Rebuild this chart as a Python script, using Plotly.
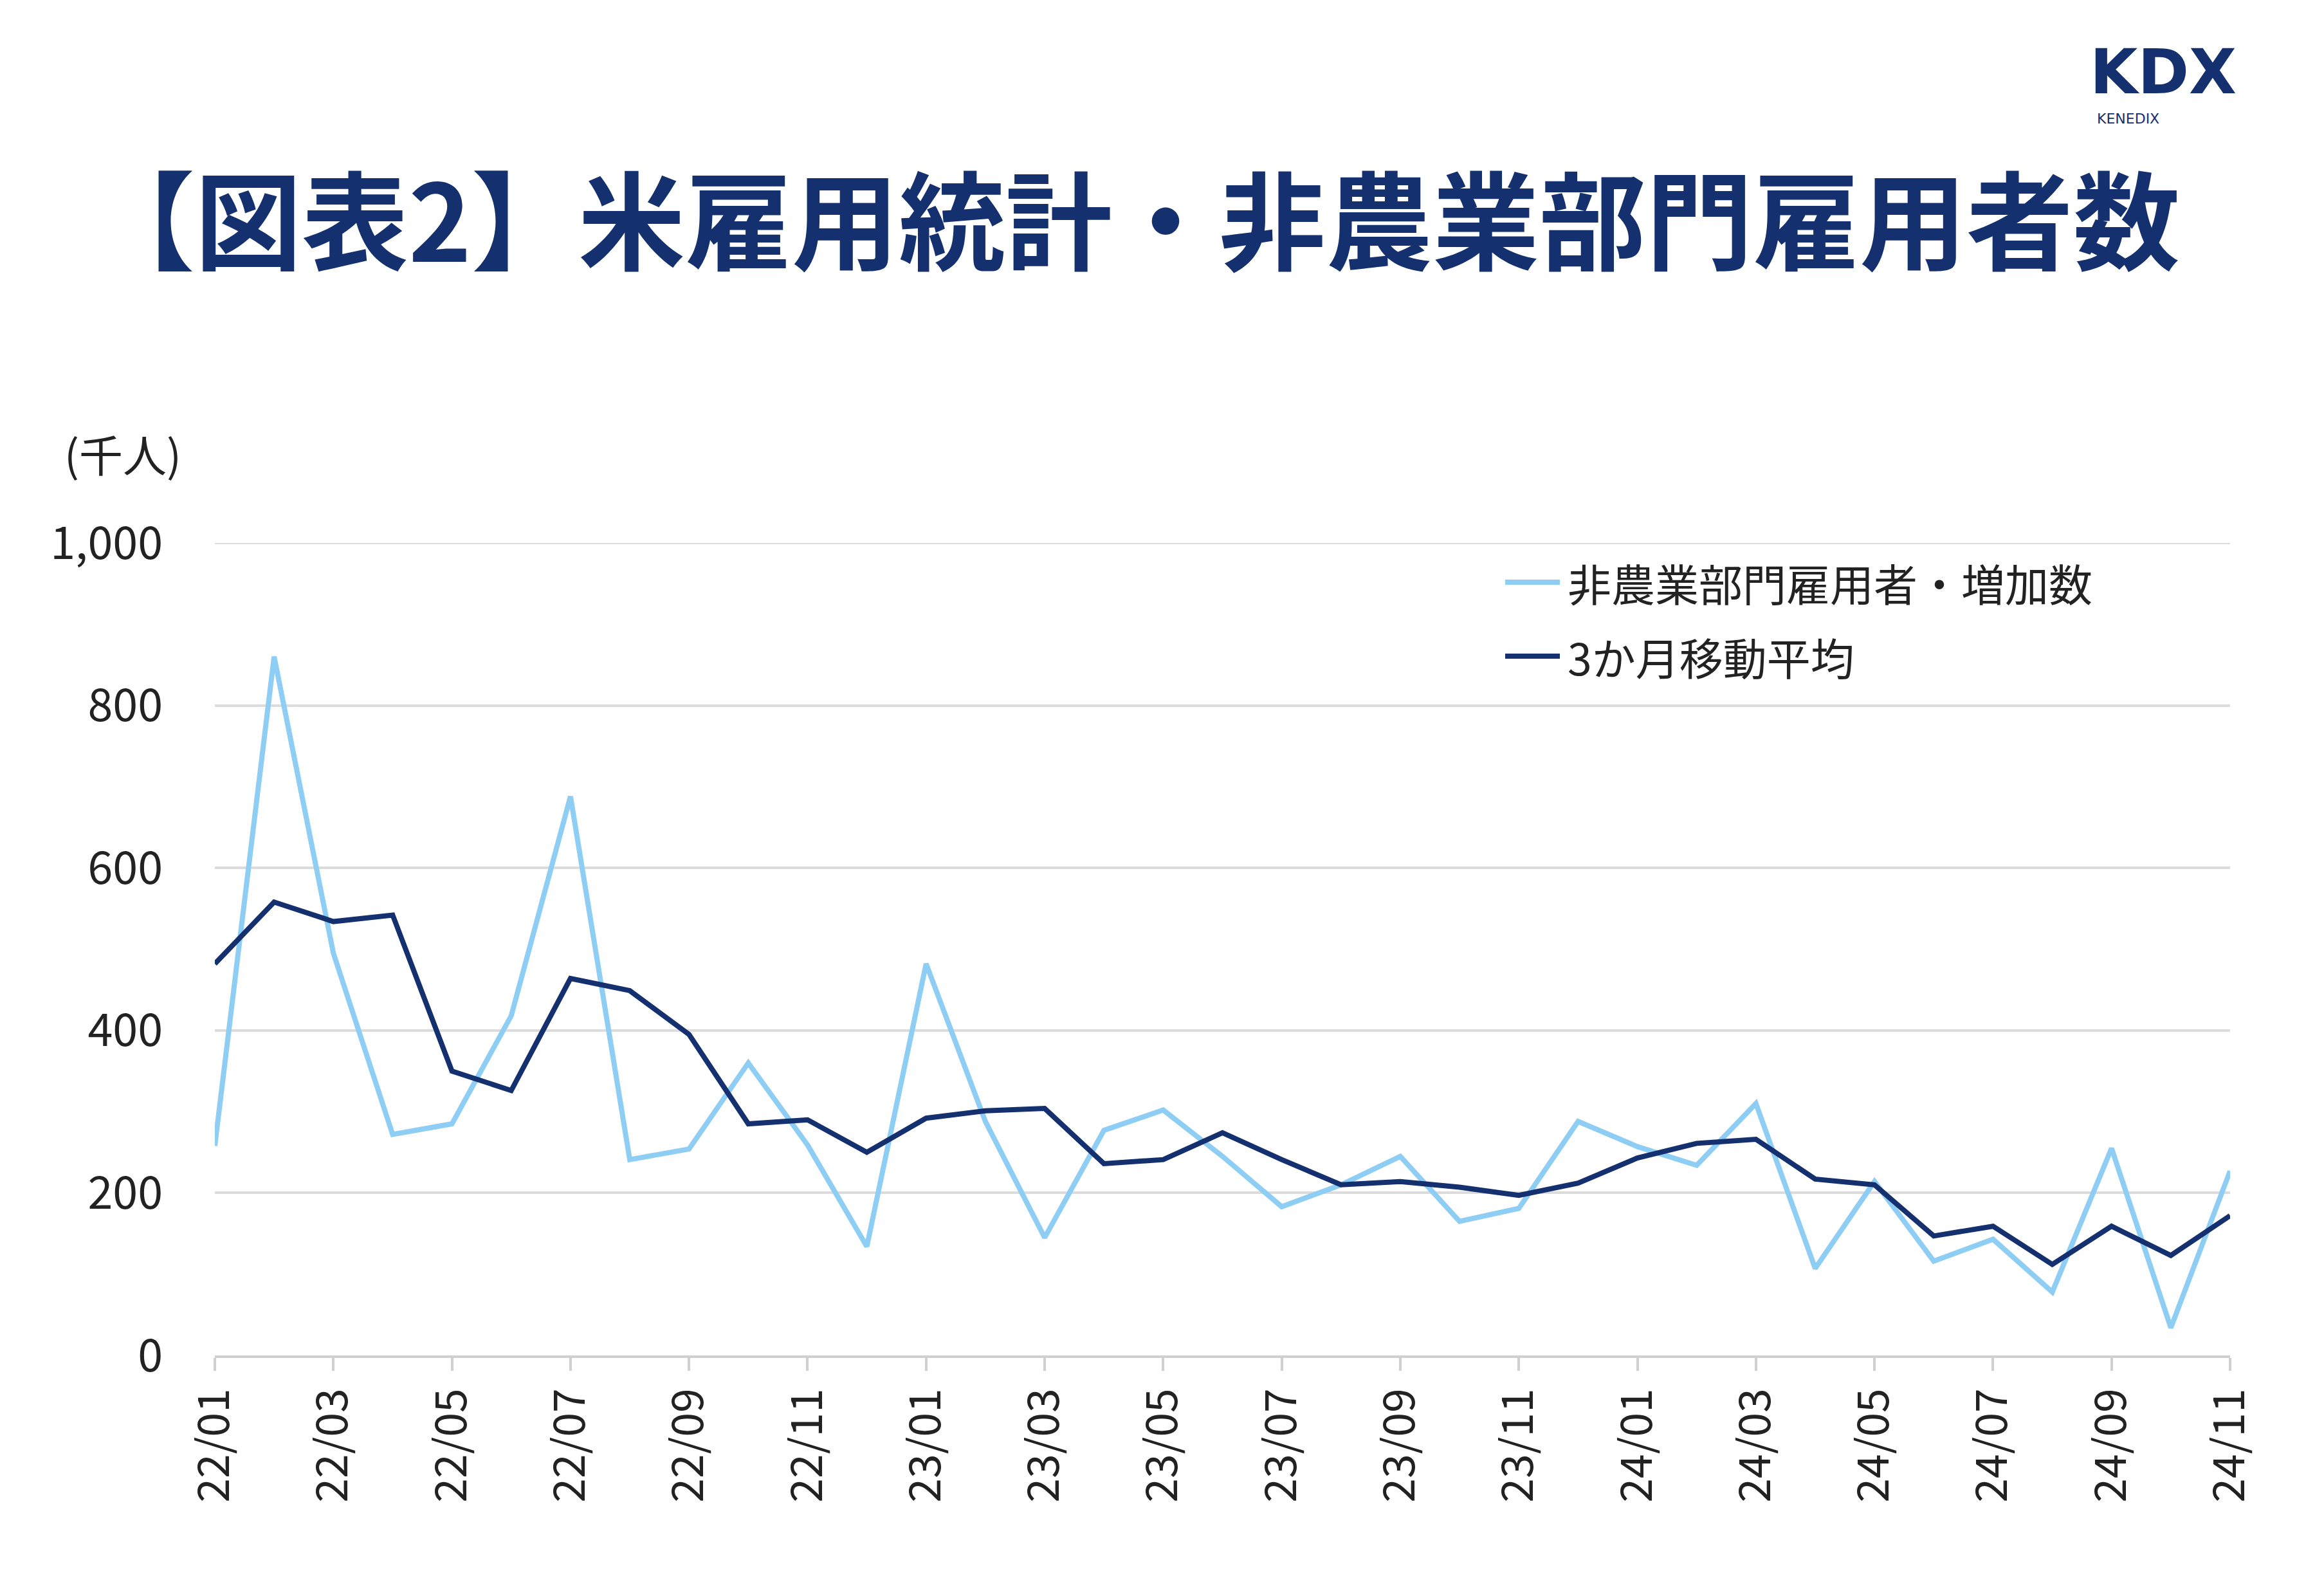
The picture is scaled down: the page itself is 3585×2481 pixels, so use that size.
import plotly.graph_objects as go

months = ['22/01', '22/02', '22/03', '22/04', '22/05', '22/06', '22/07', '22/08', '22/09', '22/10', '22/11', '22/12',
          '23/01', '23/02', '23/03', '23/04', '23/05', '23/06', '23/07', '23/08', '23/09', '23/10', '23/11', '23/12',
          '24/01', '24/02', '24/03', '24/04', '24/05', '24/06', '24/07', '24/08', '24/09', '24/10', '24/11']

monthly = [258, 860, 495, 272, 285, 418, 688, 241, 254, 360, 259, 134,
           482, 288, 145, 277, 302, 245, 183, 210, 245, 165, 181, 288,
           257, 234, 310, 107, 214, 116, 143, 78, 255, 34, 227]

avg3 = [482, 558, 534, 542, 350, 326, 464, 449, 395, 285, 290, 250,
        292, 301, 304, 236, 241, 274, 241, 210, 214, 207, 197, 212,
        243, 261, 266, 217, 210, 147, 159, 112, 159, 123, 172]

yticks = [0, 200, 400, 600, 800, 1000]
series_names = ['非農業部門雇用者・増加数', '3か月移動平均']

NAVY = '#14306e'
LIGHT = '#8ecdf4'
FONT = 'Noto Sans CJK JP'

WIDTH, HEIGHT = 3585, 2481
L, R, T, B = 326, 126, 836, 382
W = WIDTH - L - R
H = HEIGHT - T - B

def py(p):
    return (HEIGHT - B - p) / H

def pxx(p):
    return (p - L) / W

fig = go.Figure()
fig.add_trace(go.Scatter(x=months, y=monthly, mode='lines', name=series_names[0],
                         line=dict(color=LIGHT, width=8), showlegend=False))
fig.add_trace(go.Scatter(x=months, y=avg3, mode='lines', name=series_names[1],
                         line=dict(color=NAVY, width=8), showlegend=False))

# manual legend (long line samples like the reference)
shapes = [dict(type='line', xref='paper', yref='y', x0=0, x1=1, y0=1000, y1=1000,
               line=dict(color='#dcdcdc', width=4), layer='below')]
annotations = []
for i, (name, col) in enumerate(zip(series_names, [LIGHT, NAVY])):
    yy = py(897 + i * 115)
    shapes.append(dict(type='line', xref='paper', yref='paper', x0=pxx(2332), x1=pxx(2417),
                       y0=yy, y1=yy, line=dict(color=col, width=8)))
    annotations.append(dict(text=name, x=pxx(2427), y=yy, xref='paper', yref='paper',
                            xanchor='left', yanchor='middle', showarrow=False, font=dict(size=68)))

annotations += [
    dict(text='<b>【図表2】米雇用統計・非農業部門雇用者数</b>', x=pxx(1755), y=py(327), xref='paper', yref='paper',
         xanchor='center', yanchor='middle', showarrow=False, font=dict(size=166, color=NAVY)),
    dict(text='(千人)', x=pxx(90), y=py(697), xref='paper', yref='paper', xanchor='left', yanchor='middle',
         showarrow=False, font=dict(size=68)),
    dict(text='<b>KDX</b>', x=pxx(3355), y=py(104), xref='paper', yref='paper', xanchor='center',
         yanchor='middle', showarrow=False, font=dict(size=96, color=NAVY, family='DejaVu Sans')),
    dict(text='KENEDIX', x=pxx(3300), y=py(176), xref='paper', yref='paper', xanchor='center',
         yanchor='middle', showarrow=False, font=dict(size=22, color=NAVY, family='DejaVu Sans')),
]

fig.update_layout(
    width=WIDTH, height=HEIGHT,
    margin=dict(l=L, r=R, t=T, b=B),
    paper_bgcolor='white', plot_bgcolor='white',
    font=dict(family=FONT, size=68, color='#222222'),
    showlegend=False,
    xaxis=dict(type='category', range=[0, len(months) - 1], tickvals=months[::2],
               tickangle=-90, showgrid=False, showline=True, linecolor='#d0d0d0', linewidth=4,
               ticks='outside', ticklen=20, tickcolor='#d0d0d0', tickwidth=4,
               tickfont=dict(size=68)),
    yaxis=dict(range=[0, 1000], tickvals=yticks, tickformat=',', showgrid=True,
               gridcolor='#dcdcdc', gridwidth=4, zeroline=False, ticks='', ticklabelstandoff=80,
               tickfont=dict(size=70)),
    shapes=shapes,
    annotations=annotations,
)

fig.write_html('out.html')
